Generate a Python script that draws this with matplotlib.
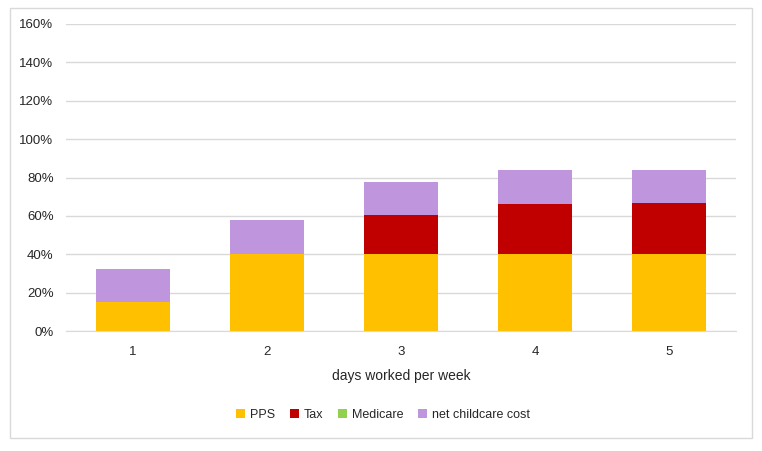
import numpy as np
import matplotlib.pyplot as plt
from matplotlib.patches import Rectangle
from matplotlib.ticker import PercentFormatter

# ---------------------------------------------------------
# Data (share of earnings, %)
# ---------------------------------------------------------
days = ["1", "2", "3", "4", "5"]
pps = [15.3, 40.0, 40.0, 40.0, 40.0]
tax = [0.0, 0.0, 20.2, 26.0, 26.6]
medicare = [0.0, 0.0, 0.0, 0.0, 0.0]
childcare = [17.2, 17.6, 17.3, 17.8, 17.2]

series_names = ["PPS", "Tax", "Medicare", "net childcare cost"]
colors = ["#ffc000", "#c00000", "#92d050", "#bf96de"]

plt.rcParams['font.family'] = ['Liberation Sans', 'DejaVu Sans']
txt = "#262626"

fig = plt.figure(figsize=(7.62, 4.51), dpi=100)
ax = fig.add_axes([66/762, 1 - 331/451, 670/762, 307/451])

# outer chart border
fig.patches.append(Rectangle((10/762, 1 - 438/451), 742/762, 430/451,
                             transform=fig.transFigure, fill=False,
                             edgecolor="#d9d9d9", linewidth=1))

x = np.arange(len(days))
bottom = np.zeros(len(days))
for name, vals, c in zip(series_names, [pps, tax, medicare, childcare], colors):
    ax.bar(x, vals, width=0.545, bottom=bottom, color=c, label=name, zorder=2)
    bottom += np.array(vals)

ax.set_ylim(0, 160)
ax.set_yticks(np.arange(0, 161, 20))
ax.yaxis.set_major_formatter(PercentFormatter(decimals=0))
ax.set_xlim(-0.5, len(days) - 0.5)
ax.set_xticks(x)
ax.set_xticklabels(days)
ax.grid(axis='y', color="#d9d9d9", linewidth=1, zorder=0)
for s in ["top", "right", "left"]:
    ax.spines[s].set_visible(False)
ax.spines["bottom"].set_color("#d9d9d9")
ax.tick_params(axis='both', length=0, labelsize=9.5, colors=txt)
ax.tick_params(axis='x', pad=11)
ax.tick_params(axis='y', pad=9)
ax.set_xlabel("days worked per week", fontsize=10, color=txt, labelpad=8)

ax.legend(loc="center", bbox_to_anchor=(383/762, 1 - 415/451),
          bbox_transform=fig.transFigure, ncol=4, frameon=False,
          fontsize=9, handlelength=0.7, handleheight=0.7,
          handletextpad=0.4, columnspacing=1.2, labelcolor=txt)

fig.savefig("out.png", dpi=100)
